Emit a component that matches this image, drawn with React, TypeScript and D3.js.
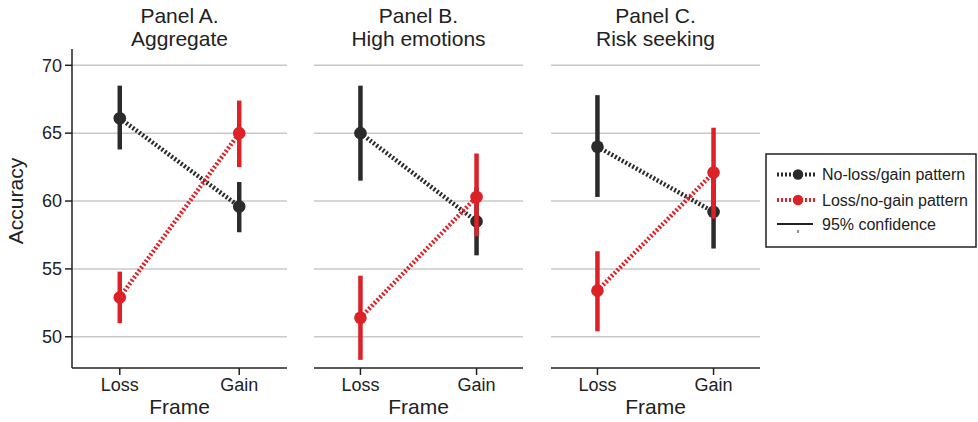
import React from "react";
import * as d3 from "d3";

// frames on the x axis
const frames = ["Loss", "Gain"];
const panelTitles = [
  ["Panel A.", "Aggregate"],
  ["Panel B.", "High emotions"],
  ["Panel C.", "Risk seeking"],
];
const yTicks = [50, 55, 60, 65, 70];

// No-loss/gain pattern (black): [Loss, Gain] per panel
const noLossMean = [[66.1, 59.6], [65.0, 58.5], [64.0, 59.2]];
const noLossLow = [[63.8, 57.7], [61.5, 56.0], [60.3, 56.5]];
const noLossHigh = [[68.5, 61.4], [68.5, 61.0], [67.8, 61.9]];

// Loss/no-gain pattern (red)
const lossMean = [[52.9, 65.0], [51.4, 60.3], [53.4, 62.1]];
const lossLow = [[51.0, 62.5], [48.3, 57.4], [50.4, 58.7]];
const lossHigh = [[54.8, 67.4], [54.5, 63.5], [56.3, 65.4]];

const legendLabels = ["No-loss/gain pattern", "Loss/no-gain pattern", "95% confidence"];

const W = 978;
const H = 422;
const panels = [
  [72, 287],
  [314, 523],
  [551, 760],
];
const top = 49;
const bottom = 368;
const BLACK = "#2b2b2b";
const RED = "#dc2127";
const TEXT = "#222";
const FONT = "'Liberation Sans', Arial, Helvetica, sans-serif";

const y = d3.scaleLinear().domain([47.7, 71.2]).range([bottom, top]);

function Series({ x, mean, low, high, color }) {
  const line = d3
    .line<number>()
    .x((d, i) => x(frames[i]))
    .y((d) => y(d));
  return (
    <g>
      <path d={line(mean) || ""} fill="none" stroke={color} strokeWidth={4.5} strokeDasharray="2,2" />
      {mean.map((m, i) => (
        <g key={i}>
          <line
            x1={x(frames[i])}
            x2={x(frames[i])}
            y1={y(low[i])}
            y2={y(high[i])}
            stroke={color}
            strokeWidth={4.5}
          />
          <circle cx={x(frames[i])} cy={y(m)} r={6.3} fill={color} />
        </g>
      ))}
    </g>
  );
}

function Panel({ idx }) {
  const [x0, x1] = panels[idx];
  const x = d3.scalePoint<string>().domain(frames).range([x0, x1]).padding(0.4);
  const cx = (x0 + x1) / 2;
  return (
    <g>
      {yTicks.map((t) => (
        <line key={t} x1={x0} x2={x1} y1={y(t)} y2={y(t)} stroke="#c8c8c8" strokeWidth={1.5} />
      ))}
      <line x1={x0} x2={x1} y1={bottom} y2={bottom} stroke={TEXT} strokeWidth={1.5} />
      {frames.map((f) => (
        <g key={f}>
          <line x1={x(f)} x2={x(f)} y1={bottom} y2={bottom + 7} stroke={TEXT} strokeWidth={1.5} />
          <text x={x(f)} y={391} textAnchor="middle" fontSize={18} fill={TEXT}>
            {f}
          </text>
        </g>
      ))}
      <text x={cx} y={414} textAnchor="middle" fontSize={21} fill={TEXT}>
        Frame
      </text>
      <text x={cx} y={22.5} textAnchor="middle" fontSize={21} fill={TEXT}>
        {panelTitles[idx][0]}
      </text>
      <text x={cx} y={45.5} textAnchor="middle" fontSize={21} fill={TEXT}>
        {panelTitles[idx][1]}
      </text>
      {idx === 0 && (
        <g>
          <line x1={x0} x2={x0} y1={top} y2={bottom} stroke={TEXT} strokeWidth={1.5} />
          {yTicks.map((t) => (
            <g key={t}>
              <line x1={x0 - 7} x2={x0} y1={y(t)} y2={y(t)} stroke={TEXT} strokeWidth={1.5} />
              <text x={x0 - 10} y={y(t)} dy="0.35em" textAnchor="end" fontSize={18} fill={TEXT}>
                {t}
              </text>
            </g>
          ))}
          <text transform={`translate(23, ${y(60)}) rotate(-90)`} textAnchor="middle" fontSize={21} fill={TEXT}>
            Accuracy
          </text>
        </g>
      )}
      <Series x={x} mean={noLossMean[idx]} low={noLossLow[idx]} high={noLossHigh[idx]} color={BLACK} />
      <Series x={x} mean={lossMean[idx]} low={lossLow[idx]} high={lossHigh[idx]} color={RED} />
    </g>
  );
}

function Legend() {
  const lx = 766;
  const ly = 154;
  const rows = [174.5, 200, 224];
  return (
    <g>
      <rect x={lx} y={ly} width={210} height={93} fill="#fff" stroke={TEXT} strokeWidth={1.5} />
      {[BLACK, RED].map((c, i) => (
        <g key={c}>
          <line x1={777} x2={817} y1={rows[i]} y2={rows[i]} stroke={c} strokeWidth={4} strokeDasharray="2,2" />
          <circle cx={798} cy={rows[i]} r={5.2} fill={c} />
        </g>
      ))}
      <line x1={777} x2={813} y1={rows[2]} y2={rows[2]} stroke={TEXT} strokeWidth={2} />
      <line x1={798} x2={798} y1={230} y2={233} stroke={TEXT} strokeWidth={1} />
      {legendLabels.map((l, i) => (
        <text key={l} x={822} y={rows[i]} dy="0.35em" fontSize={16} fill={TEXT}>
          {l}
        </text>
      ))}
    </g>
  );
}

export default function App() {
  return (
    <div style={{ position: "absolute", left: 0, top: 0 }}>
      <svg width={W} height={H} style={{ display: "block", background: "#fff", fontFamily: FONT }}>
        {panels.map((p, i) => (
          <Panel key={i} idx={i} />
        ))}
        <Legend />
      </svg>
    </div>
  );
}
